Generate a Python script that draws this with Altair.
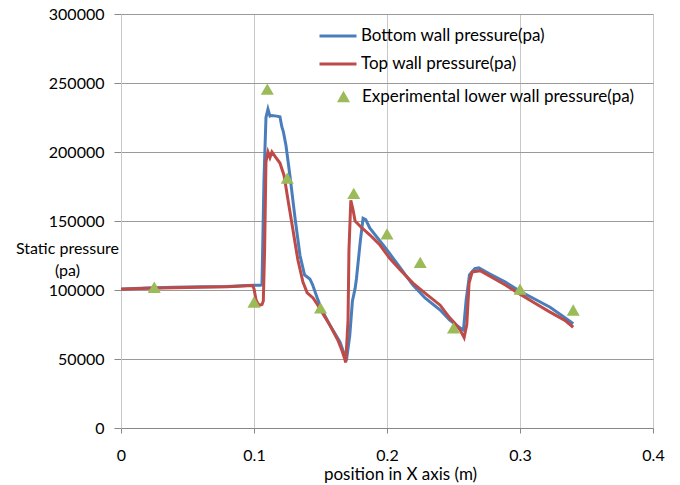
import altair as alt
import pandas as pd

# Bottom wall pressure (pa)
bottom_x = [0.0, 0.02, 0.04, 0.06, 0.08, 0.095, 0.1, 0.105, 0.106, 0.1075, 0.109, 0.1105, 0.112,
            0.1135, 0.117, 0.1195, 0.121, 0.122, 0.124, 0.127, 0.131, 0.1346, 0.138, 0.142, 0.144,
            0.148, 0.151, 0.157, 0.1647, 0.168, 0.1695, 0.172, 0.174, 0.176, 0.177, 0.18, 0.182,
            0.184, 0.187, 0.2, 0.21, 0.2195, 0.2286, 0.24, 0.247, 0.255, 0.2575, 0.2595, 0.262,
            0.266, 0.269, 0.2774, 0.289, 0.3, 0.311, 0.3226, 0.3338, 0.34]
bottom_y = [100700, 101500, 102000, 102300, 102500, 103300, 103500, 103500, 104000, 180000, 225000,
            231000, 226000, 226500, 226000, 225500, 218000, 215000, 205000, 183000, 151000, 125000,
            111000, 108000, 104000, 93000, 85500, 74600, 62300, 53000, 49000, 67000, 92000, 101000,
            108000, 136000, 152000, 151000, 145000, 129000, 116000, 103600, 94200, 85500, 78300,
            72500, 71000, 92700, 110900, 115500, 116000, 111600, 105800, 99000, 93500, 87500,
            80000, 75500]

# Top wall pressure (pa)
top_x = [0.0, 0.02, 0.04, 0.06, 0.08, 0.095, 0.099, 0.1, 0.1015, 0.103, 0.1045, 0.106, 0.107, 0.108,
         0.109, 0.1105, 0.112, 0.1135, 0.1165, 0.1195, 0.1226, 0.1256, 0.1293, 0.133, 0.1368, 0.14,
         0.1444, 0.148, 0.151, 0.157, 0.163, 0.166, 0.168, 0.169, 0.1707, 0.1714, 0.1728, 0.1745,
         0.176, 0.178, 0.18, 0.187, 0.1947, 0.202, 0.21, 0.2195, 0.2286, 0.24, 0.247, 0.251, 0.255,
         0.258, 0.26, 0.2617, 0.264, 0.27, 0.2774, 0.289, 0.3, 0.311, 0.3226, 0.3338, 0.34]
top_y = [100500, 101200, 101700, 102000, 102400, 103000, 103200, 101000, 93000, 90000, 89000, 89500,
         92000, 130000, 193000, 200000, 196000, 200000, 196000, 192000, 183000, 165000, 143500,
         121700, 105800, 98000, 94200, 89000, 84000, 74600, 63800, 56500, 50700, 47500, 78000,
         129000, 165000, 158000, 150000, 148000, 146000, 140000, 132600, 123000, 114500, 105000,
         97800, 89000, 80000, 76000, 71000, 65500, 75000, 105000, 113000, 114000, 110000, 103600,
         97000, 90600, 84000, 78000, 73000]

# Experimental lower wall pressure (pa)
exp_x = [0.025, 0.1, 0.11, 0.125, 0.15, 0.175, 0.2, 0.225, 0.25, 0.3, 0.34]
exp_y = [102000, 91300, 245600, 181000, 87000, 170000, 140600, 120000, 72500, 100700, 85500]

series_names = ["Bottom wall pressure(pa)", "Top wall pressure(pa)"]
exp_name = "Experimental lower wall pressure(pa)"

lines_df = pd.concat([
    pd.DataFrame({"x": bottom_x, "y": bottom_y, "series": series_names[0]}),
    pd.DataFrame({"x": top_x, "y": top_y, "series": series_names[1]}),
])
exp_df = pd.DataFrame({"x": exp_x, "y": exp_y, "exp": exp_name})

FONT = "Lato"

x_enc = alt.X(
    "x:Q",
    scale=alt.Scale(domain=[0, 0.4], nice=False),
    axis=alt.Axis(
        values=[0, 0.1, 0.2, 0.3, 0.4],
        format="~g",
        title="position in X axis (m)",
        titleFont=FONT, titleFontSize=17, titleFontWeight="normal", titleColor="#000",
        titleX=279, titleY=46, titleAnchor="start", titleAlign="center", titleBaseline="middle",
        labelFont=FONT, labelFontSize=16, labelColor="#000", labelPadding=14, labelFlush=False,
        domainColor="#888888", tickColor="#888888", tickSize=5,
        gridColor="#C8C8C8", grid=True,
    ),
)
y_enc = alt.Y(
    "y:Q",
    scale=alt.Scale(domain=[0, 300000], nice=False),
    axis=alt.Axis(
        values=[0, 50000, 100000, 150000, 200000, 250000, 300000],
        format="d",
        title=["Static pressure", "(pa)"],
        titleAngle=0, titleFont=FONT, titleFontSize=16, titleFontWeight="normal", titleColor="#000",
        titleX=-54, titleY=226, titleAlign="center", titleBaseline="top", titleLineHeight=22,
        labelFont=FONT, labelFontSize=16, labelColor="#000", labelPadding=10,
        domainColor="#C8C8C8", tickColor="#888888", tickSize=7,
        gridColor="#9A9A9A", grid=True,
    ),
)

lines = alt.Chart(lines_df).mark_line(strokeWidth=3).encode(
    x=x_enc,
    y=y_enc,
    color=alt.Color(
        "series:N",
        scale=alt.Scale(domain=series_names, range=["#4A7EBB", "#BE4B48"]),
        legend=alt.Legend(
            title=None, orient="none", legendX=197, legendY=2,
            symbolType="stroke", symbolSize=1369, symbolStrokeWidth=3,
            labelFont=FONT, labelFontSize=17, labelColor="#000", labelOffset=3,
            labelLimit=400, rowPadding=-7,
        ),
    ),
    detail="series:N",
)

points = alt.Chart(exp_df).mark_point(filled=True, size=170, opacity=1, color="#9BBB59").encode(
    x="x:Q",
    y="y:Q",
    shape=alt.Shape(
        "exp:N",
        scale=alt.Scale(domain=[exp_name], range=["triangle-up"]),
        legend=alt.Legend(
            title=None, orient="none", legendX=214, legendY=74,
            symbolSize=170, symbolFillColor="#9BBB59", symbolStrokeColor="#9BBB59",
            labelFont=FONT, labelFontSize=17, labelColor="#000", labelOffset=10,
            labelLimit=400,
        ),
    ),
)

chart = alt.layer(lines, points).resolve_legend(color="independent", shape="independent").properties(
    width=532,
    height=414,
    autosize=alt.AutoSizeParams(type="none"),
    padding={"left": 121, "top": 14, "right": 27, "bottom": 57},
    background="white",
).configure_view(stroke=None)

chart.save("out.html", embed_options={"renderer": "svg", "actions": False})
